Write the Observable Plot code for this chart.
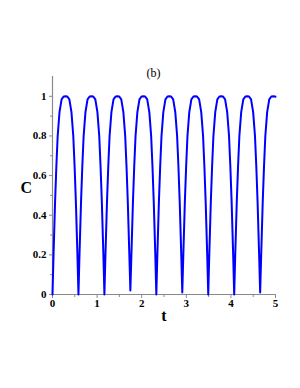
<!DOCTYPE html>
<html>
<head>
<meta charset="utf-8">
<script src="https://cdn.jsdelivr.net/npm/d3@7"></script>
<script src="https://cdn.jsdelivr.net/npm/@observablehq/plot@0.6"></script>
<style>
  html, body { margin: 0; padding: 0; background: #fff; }
  #chart { width: 300px; height: 388px; }
  #chart svg text { font-family: "Liberation Serif", "Times New Roman", Times, serif !important; }
</style>
</head>
<body>
<div id="chart"></div>
<script>
// values
const tValues = [
  0, 0.023, 0.058, 0.087, 0.116, 0.157, 0.204, 0.25, 0.291, 0.332, 0.378, 0.425, 0.466, 0.495, 0.524, 0.559,
  0.582, 0.605, 0.64, 0.669, 0.698, 0.739, 0.786, 0.832, 0.873, 0.914, 0.96, 1.007, 1.048, 1.077, 1.106, 1.141,
  1.164, 1.187, 1.222, 1.251, 1.28, 1.321, 1.368, 1.414, 1.455, 1.496, 1.542, 1.589, 1.63, 1.659, 1.688, 1.723,
  1.746, 1.769, 1.804, 1.833, 1.862, 1.903, 1.95, 1.996, 2.037, 2.078, 2.124, 2.171, 2.212, 2.241, 2.27, 2.305,
  2.328, 2.351, 2.386, 2.415, 2.444, 2.485, 2.532, 2.578, 2.619, 2.66, 2.706, 2.753, 2.794, 2.823, 2.852, 2.887,
  2.91, 2.933, 2.968, 2.997, 3.026, 3.067, 3.114, 3.16, 3.201, 3.242, 3.288, 3.335, 3.376, 3.405, 3.434, 3.469,
  3.492, 3.515, 3.55, 3.579, 3.608, 3.649, 3.696, 3.742, 3.783, 3.824, 3.87, 3.917, 3.958, 3.987, 4.016, 4.051,
  4.074, 4.097, 4.132, 4.161, 4.19, 4.231, 4.278, 4.324, 4.365, 4.406, 4.452, 4.499, 4.54, 4.569, 4.598, 4.633,
  4.656, 4.679, 4.714, 4.743, 4.772, 4.813, 4.86, 4.906, 4.947, 4.988, 5.0
];
const cValues = [
  0, 0.20, 0.47, 0.65, 0.80, 0.92, 0.985, 0.999, 1, 0.999, 0.985, 0.92, 0.80, 0.65, 0.47, 0.20,
  0, 0.20, 0.47, 0.65, 0.80, 0.92, 0.985, 0.999, 1, 0.999, 0.985, 0.92, 0.80, 0.65, 0.47, 0.20,
  0, 0.20, 0.47, 0.65, 0.80, 0.92, 0.985, 0.999, 1, 0.999, 0.985, 0.92, 0.80, 0.65, 0.47, 0.20,
  0.02, 0.20, 0.47, 0.65, 0.80, 0.92, 0.985, 0.999, 1, 0.999, 0.985, 0.92, 0.80, 0.65, 0.47, 0.20,
  0, 0.20, 0.47, 0.65, 0.80, 0.92, 0.985, 0.999, 1, 0.999, 0.985, 0.92, 0.80, 0.65, 0.47, 0.20,
  0.01, 0.20, 0.47, 0.65, 0.80, 0.92, 0.985, 0.999, 1, 0.999, 0.985, 0.92, 0.80, 0.65, 0.47, 0.20,
  0, 0.20, 0.47, 0.65, 0.80, 0.92, 0.985, 0.999, 1, 0.999, 0.985, 0.92, 0.80, 0.65, 0.47, 0.20,
  0, 0.20, 0.47, 0.65, 0.80, 0.92, 0.985, 0.999, 1, 0.999, 0.985, 0.92, 0.80, 0.65, 0.47, 0.20,
  0.01, 0.20, 0.47, 0.65, 0.80, 0.92, 0.985, 0.999, 1, 0.999, 0.998
];
const xMajorTicks = [0, 1, 2, 3, 4, 5];
const xMinorTicks = [0.5, 1.5, 2.5, 3.5, 4.5];
const yMajorTicks = [0, 0.2, 0.4, 0.6, 0.8, 1];
const yMinorTicks = [0.1, 0.3, 0.5, 0.7, 0.9];
const titleText = "(b)";
const xLabel = "t";
const yLabel = "C";

const data = tValues.map((t, i) => ({t, c: cValues[i]}));

const serif = "Liberation Serif";
const axisGray = "#8a8a8a";

const chart = Plot.plot({
  width: 300,
  height: 388,
  marginLeft: 52,
  marginRight: 25,
  marginTop: 76,
  marginBottom: 94,
  style: {background: "#fff", color: "#000", fontFamily: serif},
  x: {domain: [0, 5]},
  y: {domain: [0, 1.1]},
  marks: [
    Plot.ruleY([0], {stroke: axisGray, strokeWidth: 1.2}),
    Plot.ruleX([0], {stroke: axisGray, strokeWidth: 1.2}),
    Plot.axisX({ticks: xMajorTicks, tickSize: 4, tickPadding: 1, stroke: axisGray,
      fontWeight: "bold", fontSize: 11, label: null, tickFormat: d => String(d)}),
    Plot.axisX({ticks: xMinorTicks, tickSize: 3, stroke: axisGray, text: null, label: null}),
    Plot.axisY({ticks: yMajorTicks, tickSize: 3, tickPadding: 3, stroke: axisGray,
      fontWeight: "bold", fontSize: 11, label: null, tickFormat: d => String(d)}),
    Plot.axisY({ticks: yMinorTicks, tickSize: 2, stroke: axisGray, text: null, label: null}),
    Plot.line(data, {x: "t", y: "c", stroke: "#0000ff", strokeWidth: 2}),
    Plot.text([yLabel], {frameAnchor: "left", dx: -32, dy: 2, text: d => d, fontSize: 16,
      fontWeight: "bold", fill: "#000"}),
    Plot.text([xLabel], {frameAnchor: "bottom", dx: 0, dy: 26, text: d => d, fontSize: 16,
      fontWeight: "bold", fill: "#000"}),
    Plot.text([titleText], {frameAnchor: "top-left", dx: 94, dy: -8, text: d => d, fontSize: 12,
      fill: "#000"})
  ]
});
document.getElementById("chart").appendChild(chart);
</script>
</body>
</html>
